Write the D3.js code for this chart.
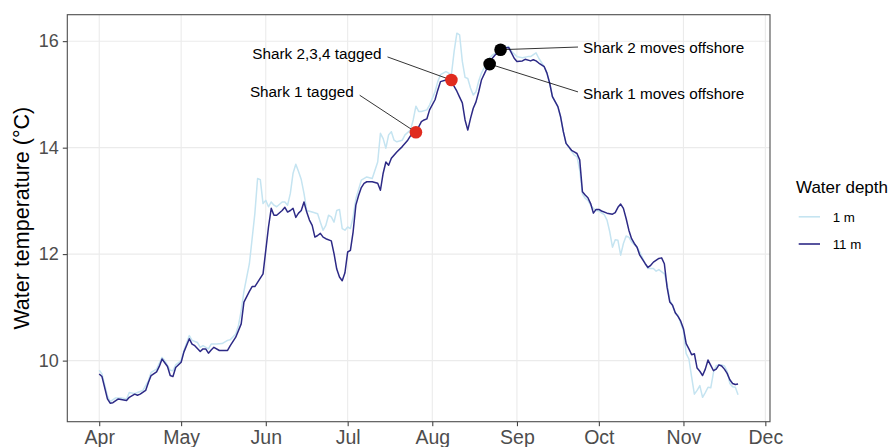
<!DOCTYPE html>
<html>
<head>
<meta charset="utf-8">
<script src="https://cdn.jsdelivr.net/npm/d3@7"></script>
<style>
  body { margin: 0; background: #fff; }
  svg { display: block; font-family: "Liberation Sans", Arial, Helvetica, sans-serif; }
</style>
</head>
<body>
<svg id="chart" width="891" height="447"></svg>
<script>
// Daily mean water temperature at two logger depths, 1 April to 21 November.
// Days are counted from the start of the season (day 0 = 1 April).
const seasonStart = Date.UTC(2019, 3, 1);

// 11 m logger
const deepDay = [0,1,3,4,5,7,8,10,11,13,14,15,17,18,19,21,22,23,25,26,27,28,30,31,33,34,35,37,38,39,40,41,42,44,45,47,48,50,52,53,55,56,57,58,60,61,62,63,64,65,67,68,69,70,71,72,73,74,75,76,77,78,79,80,81,82,83,85,86,87,88,89,90,91,92,93,94,95,96,97,98,100,102,103,104,105,106,107,109,111,113,114,116,118,119,120,121,123,124,125,127,128,129,130,131,132,133,134,135,136,137,138,139,140,142,143,144,145,147,148,150,151,152,153,155,156,158,159,160,161,163,164,165,166,168,169,170,171,173,174,175,176,177,178,179,180,181,182,183,184,186,188,189,190,191,192,193,194,195,196,197,198,199,200,201,202,203,205,206,207,208,209,210,211,212,213,214,215,216,217,218,219,220,221,222,223,224,225,226,227,228,229,230,231,232,233,234];
const deepTemp = [9.75,9.70,9.28,9.20,9.21,9.28,9.27,9.25,9.31,9.37,9.35,9.37,9.44,9.59,9.72,9.79,9.89,10.03,9.89,9.72,9.70,9.87,9.97,10.16,10.41,10.31,10.28,10.17,10.22,10.22,10.14,10.20,10.25,10.19,10.19,10.19,10.28,10.44,10.69,11.10,11.30,11.39,11.39,11.47,11.63,12.07,12.51,12.86,12.73,12.73,12.82,12.88,12.79,12.82,12.86,12.69,12.77,12.82,12.98,12.79,12.64,12.54,12.32,12.35,12.39,12.32,12.29,12.25,12.01,11.72,11.57,11.50,11.65,12.04,12.07,12.42,12.92,13.10,13.25,13.33,13.36,13.36,13.33,13.20,13.52,13.73,13.67,13.80,13.92,14.02,14.14,14.22,14.29,14.49,14.52,14.54,14.71,14.90,15.08,15.24,15.27,15.24,15.27,15.15,15.06,14.95,14.84,14.52,14.33,14.55,14.74,14.86,15.05,15.27,15.49,15.57,15.68,15.74,15.84,15.87,15.88,15.78,15.68,15.62,15.63,15.66,15.63,15.65,15.63,15.59,15.52,15.40,15.21,14.96,14.77,14.58,14.30,14.08,13.95,13.92,13.89,13.77,13.17,13.11,13.06,12.95,12.77,12.84,12.84,12.81,12.77,12.75,12.78,12.88,12.94,12.86,12.67,12.45,12.29,12.20,12.13,11.98,11.90,11.82,11.75,11.79,11.85,11.92,11.93,11.82,11.38,11.10,11.04,10.90,10.83,10.74,10.60,10.32,10.22,10.11,10.13,9.86,9.80,9.72,9.84,10.01,9.91,9.81,9.84,9.92,9.90,9.84,9.76,9.64,9.57,9.55,9.56];

// 1 m logger
const shallowDay = [0,1,3,4,6,8,10,11,13,14,16,18,19,21,22,23,24,26,27,28,30,31,33,34,36,37,38,40,41,43,45,47,48,50,51,52,53,55,57,58,59,60,61,62,63,64,65,67,68,69,70,71,72,73,74,75,76,78,80,81,82,83,84,85,86,87,88,89,90,91,92,93,94,96,98,100,102,103,104,105,106,107,108,109,111,112,114,115,116,117,118,120,121,123,124,125,127,128,129,130,131,132,133,134,135,136,137,138,139,140,141,142,144,146,148,150,151,153,155,157,158,160,161,163,164,165,166,168,169,170,171,173,174,175,176,177,178,179,180,181,182,183,185,186,187,188,189,190,191,192,193,194,195,197,198,200,201,203,204,205,207,208,209,210,211,212,213,214,215,216,217,218,219,220,221,222,223,224,225,226,228,229,230,231,232,233,234];
const shallowTemp = [9.82,9.75,9.34,9.23,9.30,9.30,9.28,9.40,9.38,9.40,9.44,9.62,9.78,9.84,9.95,10.06,10.00,9.82,9.81,9.92,10.00,10.19,10.47,10.38,10.34,10.25,10.28,10.22,10.31,10.31,10.32,10.38,10.39,10.50,10.66,10.94,11.30,11.82,12.76,13.42,13.40,12.95,13.01,12.89,12.98,12.92,12.89,12.98,12.98,12.92,13.14,13.52,13.69,13.55,13.40,13.14,12.82,12.79,12.76,12.60,12.45,12.54,12.73,12.70,12.60,12.82,12.84,12.48,12.45,12.51,12.48,12.70,13.04,13.39,13.45,13.42,13.73,14.27,14.17,13.99,14.24,14.30,14.14,14.11,14.14,14.24,14.33,14.52,14.78,14.68,14.68,14.71,14.80,15.05,15.24,15.37,15.43,15.40,15.37,15.81,16.15,16.12,15.62,15.32,15.30,15.12,14.99,15.05,15.25,15.40,15.50,15.62,15.74,15.81,15.87,15.90,15.81,15.71,15.69,15.71,15.71,15.78,15.68,15.52,15.40,15.21,14.96,14.77,14.58,14.30,14.08,13.93,13.86,13.83,13.58,13.13,13.05,13.01,12.92,12.86,12.82,12.81,12.74,12.64,12.42,12.13,12.27,12.26,11.98,12.20,12.34,12.32,12.23,12.13,12.04,11.82,11.73,11.73,11.68,11.71,11.63,11.44,11.13,11.04,10.90,10.85,10.70,10.56,10.13,10.03,9.69,9.37,9.44,9.53,9.31,9.40,9.50,9.49,9.78,9.91,9.92,9.90,9.80,9.57,9.51,9.50,9.36];

// Shark events, marked on the 11 m record
const eventLabel = ["Shark 1 tagged", "Shark 2,3,4 tagged", "Shark 1 moves offshore", "Shark 2 moves offshore"];
const eventKind  = ["tagged", "tagged", "offshore", "offshore"];
const eventDay   = [116, 129, 143, 147];
const eventTemp  = [14.29, 15.27, 15.57, 15.84];

const depthLabel = ["1 m", "11 m"];
const monthTickLabel = ["Apr", "May", "Jun", "Jul", "Aug", "Sep", "Oct", "Nov", "Dec"];
const tempTicks = [10, 12, 14, 16];

// ---- layout and styling ----
const W = 891, H = 447;
const panel = { left: 67.3, top: 14.7, right: 770, bottom: 421.7 };
const depthColour = { "1 m": "#c5e4f1", "11 m": "#2d2a86" };
const eventColour = { tagged: "#e02b1f", offshore: "#000000" };
// label anchor for each event, in data units (day, temperature)
const labelPlacement = [
  { day: 93.2,  temp: 15.06, anchor: "end",   seg: [6, 4] },
  { day: 103.4, temp: 15.77, anchor: "end",   seg: [6, 3.5] },
  { day: 177.2, temp: 15.01, anchor: "start", seg: [-5, -2] },
  { day: 177.2, temp: 15.89, anchor: "start", seg: [-5, 0] }
];

const toDate = d => new Date(seasonStart + d * 864e5);

const svg = d3.select("#chart");

// scales with ggplot-style 5% expansion
const allDays = deepDay.concat(shallowDay);
const allTemps = deepTemp.concat(shallowTemp);
const [d0, d1] = d3.extent(allDays);
const [t0, t1] = d3.extent(allTemps);
const dx = (d1 - d0) * 0.05, dt = (t1 - t0) * 0.05;

const x = d3.scaleUtc()
  .domain([toDate(d0 - dx), toDate(d1 + dx)])
  .range([panel.left, panel.right]);
const y = d3.scaleLinear()
  .domain([t0 - dt, t1 + dt])
  .range([panel.bottom, panel.top]);

const monthTicks = monthTickLabel.map((m, i) => new Date(Date.UTC(2019, 3 + i, 1)));

// grid
const grid = svg.append("g");
grid.selectAll("line.v").data(monthTicks).join("line")
  .attr("x1", d => x(d)).attr("x2", d => x(d))
  .attr("y1", panel.top).attr("y2", panel.bottom)
  .attr("stroke", "#ebebeb").attr("stroke-width", 1.1);
grid.selectAll("line.h").data(tempTicks).join("line")
  .attr("x1", panel.left).attr("x2", panel.right)
  .attr("y1", d => y(d)).attr("y2", d => y(d))
  .attr("stroke", "#ebebeb").attr("stroke-width", 1.1);

// axes
const xAxis = d3.axisBottom(x)
  .tickValues(monthTicks)
  .tickFormat((d, i) => monthTickLabel[i])
  .tickSize(4.5).tickPadding(4);
const gx = svg.append("g").attr("transform", `translate(0,${panel.bottom})`).call(xAxis);
gx.select(".domain").remove();
gx.selectAll(".tick line").attr("stroke", "#333").attr("stroke-width", 1);
gx.selectAll(".tick text").attr("fill", "#4d4d4d").attr("font-size", 19.5)
  .attr("font-family", "Liberation Sans, Arial, sans-serif");

const yAxis = d3.axisLeft(y).tickValues(tempTicks).tickSize(4.5).tickPadding(4);
const gy = svg.append("g").attr("transform", `translate(${panel.left},0)`).call(yAxis);
gy.select(".domain").remove();
gy.selectAll(".tick line").attr("stroke", "#333").attr("stroke-width", 1);
gy.selectAll(".tick text").attr("fill", "#4d4d4d").attr("font-size", 18)
  .attr("font-family", "Liberation Sans, Arial, sans-serif");

// axis title
svg.append("text")
  .attr("transform", `translate(29,${(panel.top + panel.bottom) / 2}) rotate(-90)`)
  .attr("text-anchor", "middle")
  .attr("font-size", 21.5)
  .attr("fill", "#000")
  .text("Water temperature (°C)");

// clip to panel
svg.append("clipPath").attr("id", "panel-clip")
  .append("rect")
  .attr("x", panel.left).attr("y", panel.top)
  .attr("width", panel.right - panel.left).attr("height", panel.bottom - panel.top);

const series = [
  { depth: "1 m", values: shallowDay.map((d, i) => ({ day: d, temp: shallowTemp[i] })) },
  { depth: "11 m", values: deepDay.map((d, i) => ({ day: d, temp: deepTemp[i] })) }
];

const line = d3.line()
  .x(p => x(toDate(p.day)))
  .y(p => y(p.temp));

svg.append("g").attr("clip-path", "url(#panel-clip)")
  .selectAll("path").data(series).join("path")
  .attr("d", s => line(s.values))
  .attr("fill", "none")
  .attr("stroke", s => depthColour[s.depth])
  .attr("stroke-width", 1.5)
  .attr("stroke-linejoin", "round");

// event labels with leader segments
const events = eventLabel.map((lab, i) => ({
  label: lab, kind: eventKind[i], day: eventDay[i], temp: eventTemp[i], place: labelPlacement[i]
}));

const ann = svg.append("g");
ann.selectAll("line").data(events).join("line")
  .attr("x1", e => x(toDate(e.place.day)) + e.place.seg[0])
  .attr("y1", e => y(e.place.temp) + e.place.seg[1])
  .attr("x2", e => x(toDate(e.day)))
  .attr("y2", e => y(e.temp))
  .attr("stroke", "#000").attr("stroke-width", 0.8);

ann.selectAll("text").data(events).join("text")
  .attr("x", e => x(toDate(e.place.day)))
  .attr("y", e => y(e.place.temp))
  .attr("dy", "0.36em")
  .attr("text-anchor", e => e.place.anchor)
  .attr("font-size", 15.3)
  .attr("fill", "#000")
  .text(e => e.label);

svg.append("g").selectAll("circle").data(events).join("circle")
  .attr("cx", e => x(toDate(e.day)))
  .attr("cy", e => y(e.temp))
  .attr("r", 6.3)
  .attr("fill", e => eventColour[e.kind]);

// panel border
svg.append("rect")
  .attr("x", panel.left).attr("y", panel.top)
  .attr("width", panel.right - panel.left).attr("height", panel.bottom - panel.top)
  .attr("fill", "none").attr("stroke", "#4d4d4d").attr("stroke-width", 1.1);

// legend
const legend = svg.append("g").attr("transform", "translate(796,0)");
legend.append("text")
  .attr("x", 0).attr("y", 192.5)
  .attr("font-size", 17).attr("fill", "#000")
  .text("Water depth");
const keys = legend.selectAll("g.key").data(depthLabel).join("g")
  .attr("transform", (d, i) => `translate(0,${216.8 + i * 27.2})`);
keys.append("line")
  .attr("x1", 2.7).attr("x2", 24)
  .attr("stroke", d => depthColour[d]).attr("stroke-width", 1.6);
keys.append("text")
  .attr("x", 36.7).attr("dy", "0.36em")
  .attr("font-size", 13.3).attr("fill", "#000")
  .text(d => d);
</script>
</body>
</html>
